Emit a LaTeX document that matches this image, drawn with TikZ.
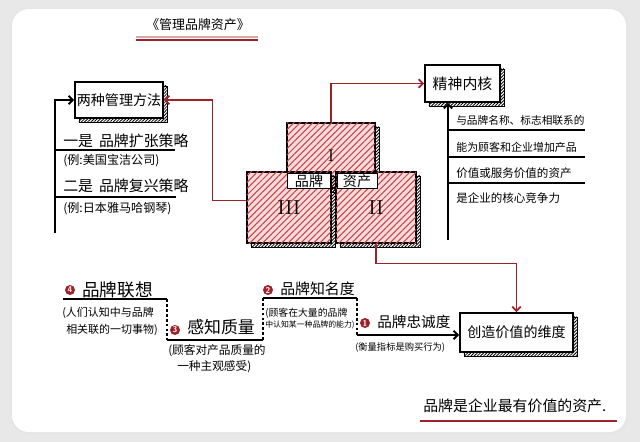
\documentclass[tikz,border=0pt]{standalone}
\usepackage{fontspec}
\newfontfamily\cjk{Noto Sans CJK SC}
\usetikzlibrary{arrows.meta,calc,positioning,patterns.meta}
\definecolor{bkred}{RGB}{158,34,40}
\definecolor{bkhatch}{RGB}{196,70,74}
\definecolor{bkpink}{RGB}{248,218,218}
\definecolor{bkpaper}{RGB}{232,232,232}

\begin{document}
\begin{tikzpicture}[x=0.025cm,y=-0.025cm,
    ln/.style={line width=1.3pt},
    dl/.style={line width=.9pt,dash pattern=on 2pt off 1.5pt},
    ba/.style={line width=1.3pt,-{Straight Barb[length=3pt,width=6pt]}},
    ra/.style={line width=1.2pt,bkred,-{Straight Barb[length=3pt,width=6pt]}},
    sh/.style={preaction={draw,line width=.5pt,
        pattern={Lines[angle=45,distance=1.6pt,line width=.6pt]},
        transform canvas={shift={(2.8pt,-2.8pt)}}}},
    hbox/.style={sh,draw,line width=1.3pt,fill=white,inner sep=0pt},
    blk/.style={sh,draw,line width=.9pt,fill=bkpink,inner sep=0pt,
        postaction={pattern={Lines[angle=45,distance=3.2pt,line width=.75pt]},pattern color=bkhatch}},
    tag/.style={draw,line width=.7pt,fill=white,inner sep=0pt,minimum height=.375cm},
    num/.style={circle,fill=bkred,text=white,inner sep=0pt,minimum size=.25cm,
        font=\sffamily\bfseries\fontsize{6}{6}\selectfont},
    txt/.style={anchor=west,inner sep=0pt}]
  % paper
  \fill[bkpaper] (0,0) rectangle (640,442);
  \fill[black!10,rounded corners=12pt] (11,8) rectangle (628,434);
  \fill[white,rounded corners=12pt] (12,9) rectangle (626,432);

  % title
  \node[font=\cjk\fontsize{9.2}{10}\selectfont] (title) at (198,25) {《管理品牌资产》};
  \draw[bkred!40,line width=1.6pt] (136,37) -- (258,37);
  \draw[bkred,line width=.9pt] (136,40) -- (258,40);

  % the three blocks
  \node[blk,minimum width=2.2cm,minimum height=1.625cm,font=\rmfamily\large] (blkI) at (331,155.5) {I};
  \node[blk,minimum width=2.1cm,minimum height=1.775cm,font=\rmfamily\Large] (blkIII) at (289,207.5) {III};
  \node[blk,minimum width=2cm,minimum height=1.775cm,font=\rmfamily\Large] (blkII) at (376,207.5) {II};
  \node[tag,minimum width=1.075cm,font=\cjk\fontsize{10}{12}\selectfont] (brand) at (309,181) {品牌};
  \node[tag,minimum width=1cm,font=\cjk\fontsize{10}{12}\selectfont] (asset) at (357,181) {资产};

  % left: two ways
  \node[hbox,minimum width=2.2cm,minimum height=.9cm,font=\cjk\fontsize{10}{12}\selectfont] (ways) at (119,100) {两种管理方法};
  \coordinate (wtail) at (55,233);
  \draw[ba] (wtail) |- (ways.west);
  \node[txt,font=\cjk\fontsize{10.6}{12}\selectfont] (s1) at (63,141) {一是\hspace{.4em}品牌扩张策略};
  \node[txt,font=\cjk\fontsize{8.6}{10}\selectfont] (e1) at (63,161) {(例:美国宝洁公司)};
  \node[txt,font=\cjk\fontsize{10.6}{12}\selectfont] (s2) at (63,186) {二是\hspace{.4em}品牌复兴策略};
  \node[txt,font=\cjk\fontsize{8.6}{10}\selectfont] (e2) at (63,209) {(例:日本雅马哈钢琴)};
  \draw[ln] (55,150) -- (175,150);
  \draw[ln] (55,197) -- (176,197);
  \draw[ra] ($(blkIII.west)+(0,-7)$) -- ++(-34,0) |- (ways.east);

  % right: core
  \node[hbox,minimum width=1.875cm,minimum height=.925cm,font=\cjk\fontsize{10.6}{12}\selectfont] (core) at (462.5,83.5) {精神内核};
  \draw[ra] (blkI.north) |- (core.west);
  \coordinate (ctail) at (448,240);
  \draw[ba] (ctail) -- (ctail |- core.south);
  \node[txt,font=\cjk\fontsize{7.6}{9}\selectfont] (c1) at (456,120) {与品牌名称、标志相联系的};
  \node[txt,font=\cjk\fontsize{7.8}{9}\selectfont] (c2) at (456,147) {能为顾客和企业增加产品};
  \node[txt,font=\cjk\fontsize{8.2}{9}\selectfont] (c3) at (456,173) {价值或服务价值的资产};
  \node[txt,font=\cjk\fontsize{8.2}{9}\selectfont] (c4) at (456,198) {是企业的核心竞争力};
  \draw[ln] (448,130) -- (585,130);
  \draw[ln] (448,157) -- (585,157);
  \draw[ln] (448,183) -- (585,183);

  % dimensions of value
  \node[hbox,minimum width=2.825cm,minimum height=.975cm,font=\cjk\fontsize{10}{12}\selectfont] (value) at (516.5,332.5) {创造价值的维度};
  \draw[ra] (blkII.south) -- ++(0,20) -| (value.north);

  % steps
  \node[num] (n4) at (70,290) {4};
  \node[txt,font=\cjk\fontsize{12.5}{14}\selectfont] (assoc) at (82,290) {品牌联想};
  \node[txt,font=\cjk\fontsize{7.8}{9}\selectfont] (assoc1) at (62,313) {(人们认知中与品牌};
  \node[txt,font=\cjk\fontsize{7.8}{9}\selectfont] (assoc2) at (66,330) {相关联的一切事物)};
  \node[num] (n3) at (175,330) {3};
  \node[txt,font=\cjk\fontsize{12}{14}\selectfont] (qual) at (187,327) {感知质量};
  \node[txt,font=\cjk\fontsize{8.3}{9}\selectfont] (qual1) at (168,351) {(顾客对产品质量的};
  \node[txt,font=\cjk\fontsize{8.3}{9}\selectfont] (qual2) at (177,367) {一种主观感受)};
  \node[num] (n2) at (268,290) {2};
  \node[txt,font=\cjk\fontsize{10.6}{12}\selectfont] (aware) at (280,289) {品牌知名度};
  \node[txt,font=\cjk\fontsize{7}{8}\selectfont] (aware1) at (265,313) {(顾客在大量的品牌};
  \node[txt,font=\cjk\fontsize{5.6}{7}\selectfont] (aware2) at (265,325) {中认知某一种品牌的能力)};
  \node[num] (n1) at (365,323) {1};
  \node[txt,font=\cjk\fontsize{10.4}{12}\selectfont] (loyal) at (377,322) {品牌忠诚度};
  \node[txt,font=\cjk\fontsize{6.6}{8}\selectfont] (loyal1) at (355,348) {(衡量指标是购买行为)};
  \coordinate (k0) at (63,299);
  \coordinate (k1) at (167,299);
  \coordinate (k2) at (167,340);
  \coordinate (k3) at (263,340);
  \coordinate (k4) at (263,298);
  \coordinate (k5) at (357,298);
  \coordinate (k6) at (357,335);
  \draw[ln] (k0) -- (k1);
  \draw[dl] (k1) -- (k2);
  \draw[ln] (k2) -- (k3);
  \draw[dl] (k3) -- (k4);
  \draw[ln] (k4) -- (k5);
  \draw[dl] (k5) -- (k6);
  \draw[ba] (k6) -- (k6 -| value.west);

  % motto
  \node[txt,font=\cjk\fontsize{10.6}{12}\selectfont] (motto) at (423,406) {品牌是企业最有价值的资产.};
  \draw[bkred,line width=.8pt] (420,421) -- (617,421);
\end{tikzpicture}
\end{document}
